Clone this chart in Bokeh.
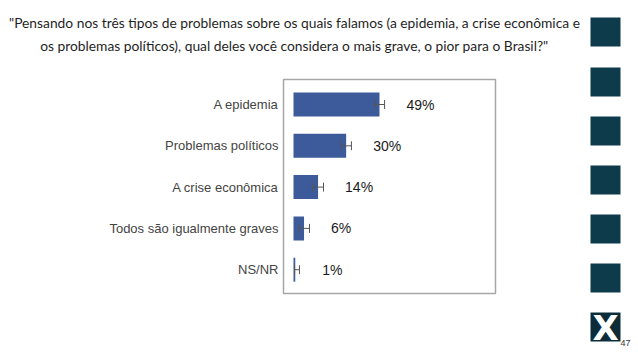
import math
from bokeh.plotting import figure
from bokeh.models import ColumnDataSource, Range1d
from bokeh.core.properties import value
from bokeh.embed import file_html
from bokeh.resources import INLINE

# ---- data ----
categories = ["A epidemia", "Problemas políticos", "A crise econômica",
              "Todos são igualmente graves", "NS/NR"]
percent = [49, 30, 14, 6, 1]
err_low = [46.2, 27.3, 10.8, 3.4, 0.6]
err_high = [51.9, 33.0, 17.1, 9.1, 3.4]
value_labels = ["49%", "30%", "14%", "6%", "1%"]

title_line1 = "\"Pensando nos três tipos de problemas sobre os quais falamos (a epidemia, a crise econômica e"
title_line2 = "os problemas políticos), qual deles você considera o mais grave, o pior para o Brasil?\""
page_number = "47"

# ---- layout constants (canvas pixels) ----
W, H = 636, 357
ZERO_X = 293.0        # canvas x of 0 %
PX_PER_PCT = 1.755
ROW0_Y = 104.0        # canvas y of first category centre
ROW_STEP = 41.3

rows = list(range(len(categories)))
src = ColumnDataSource(dict(cat=categories, row=rows, val=percent, lo=err_low, hi=err_high,
                            lab=value_labels, zero=[0] * len(categories)))

BAR = "#3d5a9b"
TEAL = "#0e3b4b"

p = figure(width=W, height=H, x_range=Range1d(0, W), y_range=Range1d(H, 0),
           output_backend="svg", toolbar_location=None,
           x_axis_location=None, y_axis_location=None,
           min_border_left=0, min_border_right=0, min_border_top=0, min_border_bottom=0)
p.grid.visible = False
p.outline_line_color = None
p.extra_x_ranges = {"pct": Range1d(-ZERO_X / PX_PER_PCT, (W - ZERO_X) / PX_PER_PCT)}
p.extra_y_ranges = {"row": Range1d((H - ROW0_Y) / ROW_STEP, -ROW0_Y / ROW_STEP)}

# chart frame
p.quad(left=[283], right=[495], top=[79], bottom=[293], fill_color=None,
       line_color="#a6a6a6", line_width=1.5)

# bars
p.hbar(y="row", right="val", left=0, height=24 / ROW_STEP, source=src,
       fill_color=BAR, line_color=None, x_range_name="pct", y_range_name="row")

# error bars
p.segment(x0="lo", x1="hi", y0="row", y1="row", source=src, line_color="#555555",
          line_width=1, x_range_name="pct", y_range_name="row")
for col in ("lo", "hi"):
    p.scatter(x=col, y="row", source=src, marker="dash", angle=math.pi / 2, size=9,
              line_color="#555555", line_width=1, x_range_name="pct", y_range_name="row")

# value labels
p.text(x="val", y="row", text="lab", source=src, x_offset=27,
       text_align="left", text_baseline="middle",
       text_font=value("Liberation Sans"), text_font_size="14px", text_color="#1a1a1a",
       x_range_name="pct", y_range_name="row")

# category labels
p.text(x="zero", y="row", text="cat", source=src, x_offset=-15,
       text_align="right", text_baseline="middle",
       text_font=value("Liberation Sans"), text_font_size="13px", text_color="#444444",
       x_range_name="pct", y_range_name="row")

# title
p.text(x=[294, 294], y=[22, 45], text=[title_line1, title_line2],
       text_align="center", text_baseline="middle",
       text_font=value("Lato"), text_font_size="13.8px", text_color="#1f1f1f")

# decorative side squares
sq_y = [31.5, 81.5, 130.5, 179.5, 228.5, 277.5]
p.rect(x=[605] * len(sq_y), y=sq_y, width=30, height=29, fill_color=TEAL, line_color=None)
p.rect(x=[605], y=[326.5], width=30, height=29, fill_color="#0b2c38", line_color=None)
p.text(x=[605], y=[327], text=["X"], text_align="center", text_baseline="middle",
       text_font=value("DejaVu Sans"), text_font_style="bold", text_font_size="34px",
       text_color="white")
p.text(x=[630], y=[342], text=[page_number], text_align="right", text_baseline="middle",
       text_font=value("Liberation Sans"), text_font_size="9px", text_color="#333333")

open("out.html", "w").write(file_html(p, INLINE))
